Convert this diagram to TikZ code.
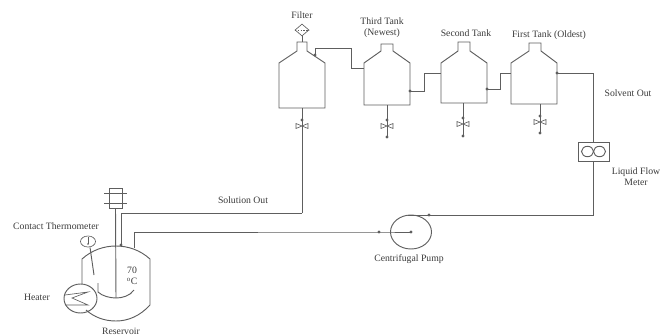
\documentclass[tikz,border=0pt]{standalone}
\usepackage{fontspec}
\setmainfont{Liberation Serif}
\usetikzlibrary{arrows.meta,positioning,calc,shapes.geometric}
\definecolor{PLine}{HTML}{5E5E5E}
\definecolor{PText}{HTML}{3A3A3A}
\tikzset{
  pipe/.style={PLine,line width=.8pt},
  thin pipe/.style={PLine,line width=.55pt},
  tag/.style={text=PText,font=\fontsize{8.3}{9.6}\selectfont,align=center,inner sep=0pt},
  joint/.style={circle,fill=PLine,inner sep=0pt,minimum size=2.6pt},
  pumpbody/.style={pipe,ellipse,draw,inner sep=0pt,minimum width=1.23cm,minimum height=1.02cm},
  meterbox/.style={pipe,draw,minimum width=.93cm,minimum height=.57cm,inner sep=0pt},
  filterbox/.style={thin pipe,draw,diamond,minimum width=.42cm,minimum height=.36cm,inner sep=0pt},
}
% one tank body: left, right, neck left, neck right, neck top, bottom
\newcommand{\tankbody}[6]{%
  \draw[pipe] (#1,#6) -- (#2,#6) -- (#2,63) -- (#4,51) -- (#4,#5) -- (#3,#5)
    -- (#3,51) -- (#1,63) -- cycle;}
% one drain valve: x, top of the line, y of the valve, end of the line
\newcommand{\drainvalve}[4]{%
  \draw[pipe] (#1,#2) -- (#1,#4);
  \node[joint] at (#1,#3-6) {};
  \draw[thin pipe] (#1-6,#3-2.5) -- (#1+6,#3+2.5) -- (#1+6,#3-2.5) -- (#1-6,#3+2.5) -- cycle;}
\begin{document}
\begin{tikzpicture}[x=.03cm,y=-.03cm]
    \useasboundingbox (0,0) rectangle (669,335);

    % tanks
    \tankbody{279}{325}{297}{307}{42}{108}
    \tankbody{364}{410}{381}{393}{44}{105}
    \tankbody{441}{487}{458}{470}{42}{103}
    \tankbody{511}{557}{529}{541}{43}{104}
    \drainvalve{302}{108}{126}{213}
    \drainvalve{387}{105}{126}{137}
    \drainvalve{463}{103}{124}{136}
    \drainvalve{540}{104}{122}{133}
    \node[joint] at (387,137) {};
    \node[joint] at (463,136) {};
    \node[joint] at (540,133) {};

    % filter
    \node[filterbox] (filter) at (302,30) {};
    \draw[thin pipe,dash pattern=on 1.5pt off 1pt] (filter.west) -- (filter.east);
    \coordinate (neckA) at (302,42);
    \draw[pipe] (filter.south) -- (neckA);

    % ports between tanks
    \node[joint] (outA) at (315,55) {};
    \coordinate (inThird) at (364,68);
    \node[joint] (outThird) at (410,91) {};
    \coordinate (inSecond) at (441,73);
    \node[joint] (outSecond) at (487,89) {};
    \coordinate (inFirst) at (511,73);
    \node[joint] (outFirst) at (557,73) {};
    \draw[pipe] (outA.center) -- (315,48) -- (351,48) -- (351,68) -- (inThird);
    \draw[pipe] (outThird.center) -- (424,91) -- (424,73) -- (inSecond);
    \draw[pipe] (outSecond.center) -- (500,89) -- (500,73) -- (inFirst);

    % meter and pump
    \node[meterbox] (meter) at (593.5,151.5) {};
    \draw[pipe] (meter.center) ++(-6,0) circle [x radius=6,y radius=5.2];
    \draw[pipe] (meter.center) ++(6,0) circle [x radius=6,y radius=5.2];
    \draw[pipe] (outFirst.center) -| (meter.north);
    \node[pumpbody] (pump) at (411,232) {};
    \node[joint] (pumpeye) at (pump.center) {};
    \coordinate (pumptop) at (408,215);
    \node[joint] (pumpdot) at (429,215) {};
    \draw[pipe] (meter.south) |- (pumptop);
    \node[joint] (suction) at (379,232) {};
    \coordinate (backin) at (134,248);
    \draw[pipe] (pumpeye.center) -- (suction.center) -| (backin);

    % reservoir
    \coordinate (drainA) at (302,213);
    \node[joint] (solutionin) at (121,245) {};
    \draw[pipe] (82,284) -- (82,259) .. controls (92,250) and (104,246) .. (116,246)
      .. controls (128,246) and (140,250) .. (150,259) -- (150,305)
      .. controls (140,316) and (128,321) .. (116,321)
      .. controls (104,321) and (94,317) .. (86,310);
    \draw[pipe] (drainA) -| (solutionin.center);

    % heater
    \node[pipe,draw,ellipse,minimum width=.99cm,minimum height=.87cm,inner sep=0pt] (heater) at (80.5,298.5) {};
    \draw[thin pipe] (65,295) -- (88,292) -- (72,298) -- (88,305) -- (65,305);

    % stirrer
    \node[pipe,draw,minimum width=.39cm,minimum height=.6cm,inner sep=0pt] (motor) at (115.5,198) {};
    \draw[pipe] (104,193) -- (127,193) (104,203) -- (127,203);
    \coordinate (hub) at (116,298);
    \draw[pipe] (motor.south) -- (hub);
    \draw[pipe] (98,283) -- (98,292) .. controls (102,296) and (110,298) .. (hub)
      .. controls (122,298) and (130,296) .. (134,290);

    % thermometer
    \node[thin pipe,draw,ellipse,minimum width=.45cm,minimum height=.33cm,inner sep=0pt] (gauge) at (88,241.5) {};
    \draw[thin pipe] (88,237) -- (88,244);
    \node[joint,minimum size=1.6pt] at (88,244) {};
    \draw[pipe] (gauge.south) ++(2,0) -- (94,275);

    % labels
    \node[tag] (tagfilter) at (302,15) {Filter};
    \node[tag] (tagthird) at (382,28) {Third Tank\\(Newest)};
    \node[tag] (tagsecond) at (466,33) {Second Tank};
    \node[tag] (tagfirst) at (549,35) {First Tank (Oldest)};
    \node[tag] (tagsolvent) at (628,93) {Solvent Out};
    \node[tag] (tagmeter) at (636,177) {Liquid Flow\\Meter};
    \node[tag] (tagpump) at (409,259) {Centrifugal Pump};
    \node[tag] (tagsolution) at (243,200) {Solution Out};
    \node[tag] (tagcontact) at (56,226) {Contact Thermometer};
    \node[tag] (tagheater) at (37,297) {Heater};
    \node[tag] (tagreservoir) at (121,331) {Reservoir};
    \node[tag,font=\fontsize{8.3}{9.4}\selectfont] (tagtemp) at (132,276) {70\\\textsuperscript{o}C};
  \end{tikzpicture}
\end{document}
